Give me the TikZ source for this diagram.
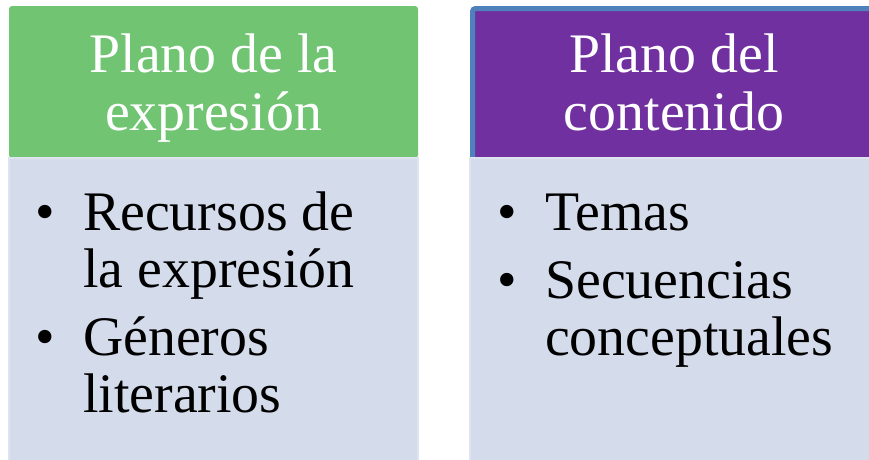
\documentclass[tikz,border=0pt]{standalone}
\usepackage{fontspec}
\setmainfont{Liberation Serif}
\usepackage{xcolor}
\definecolor{hdrgreen}{HTML}{70C472}
\definecolor{hdrpurple}{HTML}{7030A0}
\definecolor{hdrblue}{HTML}{4F81BD}
\definecolor{bodyblue}{HTML}{D4DBEA}
\definecolor{bodyedge}{HTML}{DDE3EF}
\newcommand\bigfont{\fontsize{55.8}{58}\selectfont}
\tikzstyle{panel}=[rectangle,inner sep=0pt,outer sep=0pt]
\tikzstyle{hdr}=[panel,minimum width=409pt,minimum height=152pt,
  rounded corners=3pt]
\tikzstyle{bodybox}=[panel,minimum width=409pt,minimum height=304pt,
  fill=bodyblue,draw=bodyedge,line width=1.5pt]
\tikzstyle{hdrtxt}=[inner sep=0pt,anchor=base,text=white,font=\bigfont]
\tikzstyle{txt}=[inner sep=0pt,anchor=base west,font=\bigfont]
\tikzstyle{bul}=[inner sep=0pt,anchor=base,font=\bigfont]

\begin{document}
\begin{tikzpicture}[x=1pt,y=-1pt]
  \useasboundingbox (0,0) rectangle (869,459);
  % headers
  \node[hdr,fill=hdrgreen] (hdrL) at (213.5,82) {};
  \node[hdr,fill=hdrpurple,draw=hdrblue,line width=5pt,minimum width=404pt,
    minimum height=151.5pt] (hdrR) at (674.5,84.25) {};
  \foreach \n/\x/\y/\t in {hL1/213.5/72/Plano de la, hL2/213.5/130/expresión,
      hR1/674/72/Plano del, hR2/674/130/contenido}
    \node[hdrtxt] (\n) at (\x,\y) {\t};
  % bodies
  \node[bodybox] (bodyL) at (213.5,310) {};
  \node[bodybox] (bodyR) at (674.5,310) {};

  \foreach \n/\x/\y in {bL1/45/230, bL2/45/355, bR1/507/230, bR2/507/298}
    \node[bul] (\n) at (\x,\y) {•};
  \foreach \n/\x/\y/\t in {tL1/83/230/Recursos de, tL2/83/287/la expresión,
      tL3/83/355/Géneros, tL4/83/412/literarios,
      tR1/545/230/Temas, tR2/545/298/Secuencias, tR3/545/355/conceptuales}
    \node[txt] (\n) at (\x,\y) {\t};
\end{tikzpicture}
\end{document}
